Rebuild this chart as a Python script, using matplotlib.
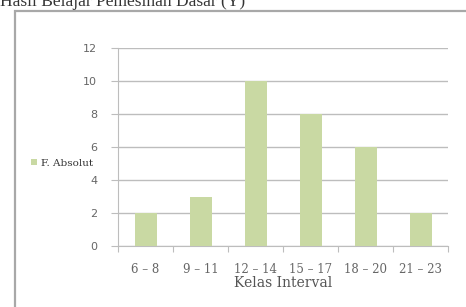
import matplotlib.pyplot as plt
from matplotlib.patches import Rectangle

kelas = ["6 – 8", "9 – 11", "12 – 14", "15 – 17", "18 – 20", "21 – 23"]
f_absolut = [2, 3, 10, 8, 6, 2]
y_ticks = [0, 2, 4, 6, 8, 10, 12]

fig = plt.figure(figsize=(4.66, 3.07), dpi=100)
fig.patch.set_facecolor("white")

# outer chart frame (runs off the right and bottom edges)
frame = Rectangle((15/466, -0.05), 1.0, 1 - 11/307 + 0.05, transform=fig.transFigure,
                  fill=False, edgecolor="#a8a8a8", linewidth=1.6)
fig.patches.append(frame)

# title, cut off at the top like in the source image
fig.text(0.0, 1 - 6/307, "Hasil Belajar Pemesinan Dasar (Y)", family="Liberation Serif",
         fontsize=12.5, color="#333333", va="baseline", ha="left")

ax = fig.add_axes([118/466, 1 - 246/307, 330/466, 198/307])
x = range(len(kelas))
ax.bar(x, f_absolut, width=0.4, color="#c9d9a3", zorder=3, label="F. Absolut")

ax.set_ylim(0, 12)
ax.set_xlim(-0.5, len(kelas) - 0.5)
ax.set_yticks(y_ticks)
ax.set_yticklabels([str(v) for v in y_ticks], family="DejaVu Sans", fontsize=8, color="#666666")
ax.yaxis.grid(True, color="#bdbdbd", linewidth=1.0, zorder=0)
ax.tick_params(axis="y", length=5, width=0.8, color="#bdbdbd", pad=10)

ax.set_xticks(x)
ax.set_xticklabels(kelas, family="DejaVu Serif", fontsize=8.5, color="#666666")
ax.set_xticks([i - 0.5 for i in range(len(kelas) + 1)], minor=True)
ax.tick_params(axis="x", which="major", length=0, pad=12)
ax.tick_params(axis="x", which="minor", length=4, width=0.8, color="#bdbdbd")
ax.set_xlabel("Kelas Interval", family="DejaVu Serif", fontsize=10, color="#555555", labelpad=0)

for s in ["top", "right"]:
    ax.spines[s].set_visible(False)
ax.spines["left"].set_color("#bdbdbd")
ax.spines["bottom"].set_color("#bdbdbd")

fig.legend(loc="center left", bbox_to_anchor=(26/466, 1 - 163/307), frameon=False,
           prop={"family": "DejaVu Serif", "size": 7.5}, handlelength=0.6, handleheight=0.6,
           handletextpad=0.3, borderpad=0, labelcolor="#333333")

fig.savefig("out.png", dpi=100)
